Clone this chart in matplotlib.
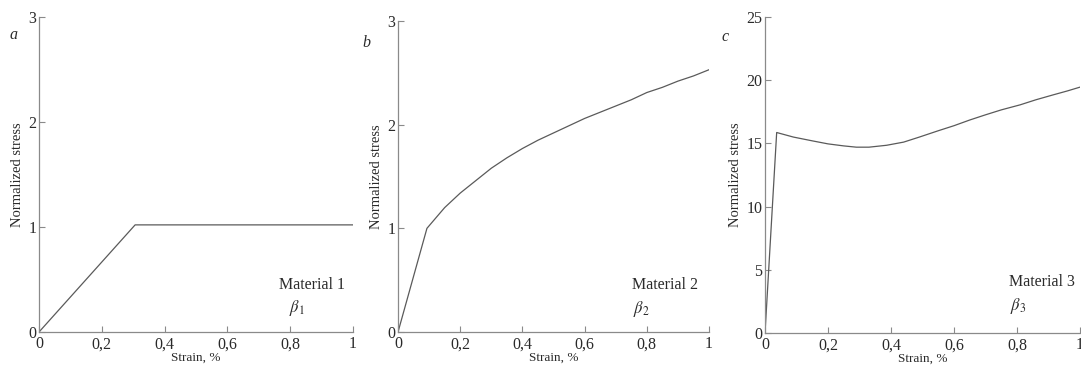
import matplotlib
matplotlib.use("Agg")
import matplotlib.pyplot as plt
from matplotlib.ticker import FuncFormatter

plt.rcParams["font.family"] = ["Liberation Serif", "DejaVu Serif"]
plt.rcParams["mathtext.fontset"] = "stix"

# stress-strain curves, strain in %, stress normalized
strain1 = [0, 0.306, 1.0]
stress1 = [0, 1.02, 1.02]

strain2 = [0, 0.093, 0.13, 0.15, 0.2, 0.25, 0.3, 0.35, 0.4, 0.45, 0.5,
           0.55, 0.6, 0.65, 0.7, 0.75, 0.8, 0.85, 0.9, 0.95, 1.0]
stress2 = [0, 1.0, 1.13, 1.2, 1.34, 1.46, 1.58, 1.68, 1.77, 1.85, 1.92,
           1.99, 2.06, 2.12, 2.18, 2.24, 2.31, 2.36, 2.42, 2.47, 2.53]

strain3 = [0, 0.037, 0.09, 0.15, 0.2, 0.25, 0.29, 0.33, 0.386, 0.44, 0.49,
           0.55, 0.6, 0.65, 0.7, 0.75, 0.81, 0.86, 0.915, 0.96, 1.0]
stress3 = [0, 15.86, 15.5, 15.2, 14.96, 14.8, 14.7, 14.7, 14.85, 15.1, 15.5,
           16.0, 16.4, 16.85, 17.26, 17.65, 18.05, 18.45, 18.84, 19.15, 19.45]

panels = ["a", "b", "c"]
materials = ["Material 1", "Material 2", "Material 3"]
betas = [r"$\beta_1$", r"$\beta_2$", r"$\beta_3$"]
x_ticks = [0, 0.2, 0.4, 0.6, 0.8, 1.0]
y_ticks = [[0, 1, 2, 3], [0, 1, 2, 3], [0, 5, 10, 15, 20, 25]]

line_color = "#5a5a5a"
text_color = "#2a2a2a"

fig = plt.figure(figsize=(10.81, 3.69), dpi=100)
rects = [
    [0.0361, 0.1003, 0.2905, 0.8537],
    [0.3682, 0.1003, 0.2877, 0.8428],
    [0.7077, 0.0976, 0.2914, 0.8564],
]
curves = [(strain1, stress1), (strain2, stress2), (strain3, stress3)]
# label placement in axes fractions: (material x center, beta x left)
label_x = [(0.87, 0.796), (0.858, 0.755), (0.88, 0.778)]
label_y = [(0.15, 0.075), (0.15, 0.075), (0.16, 0.085)]
letter_pos = [(10, 35), (362, 43), (722, 37)]


def comma(v, pos):
    if v == int(v):
        return str(int(v))
    return ("%g" % v).replace(".", ",")


for i, rect in enumerate(rects):
    ax = fig.add_axes(rect)
    x, y = curves[i]
    ax.plot(x, y, color=line_color, lw=0.9)
    ax.set_xlim(0, 1)
    ax.set_ylim(y_ticks[i][0], y_ticks[i][-1])
    ax.set_xticks(x_ticks)
    ax.set_yticks(y_ticks[i])
    ax.xaxis.set_major_formatter(FuncFormatter(comma))
    for s in ["top", "right"]:
        ax.spines[s].set_visible(False)
    for s in ["left", "bottom"]:
        ax.spines[s].set_color("#8a8a8a")
        ax.spines[s].set_linewidth(0.9)
    ax.tick_params(direction="in", length=4, width=0.8, color="#8a8a8a",
                   labelsize=11.5, labelcolor=text_color)
    ax.tick_params(axis="x", pad=3)
    ax.tick_params(axis="y", pad=2)
    ax.set_xlabel("Strain, %", fontsize=9.5, color=text_color, labelpad=0)
    ax.set_ylabel("Normalized stress", fontsize=10.5, color=text_color, labelpad=3)
    mx, bx = label_x[i]
    my, by = label_y[i]
    ax.text(mx, my, materials[i], transform=ax.transAxes, fontsize=11.5,
            color=text_color, ha="center", va="center")
    ax.text(bx, by, betas[i], transform=ax.transAxes, fontsize=12,
            color=text_color, ha="left", va="center")
    lx, ly = letter_pos[i]
    fig.text(lx / 1081, 1 - ly / 369, panels[i], fontsize=11.5, style="italic",
             color=text_color, va="center")

fig.savefig("out.png", dpi=100)
